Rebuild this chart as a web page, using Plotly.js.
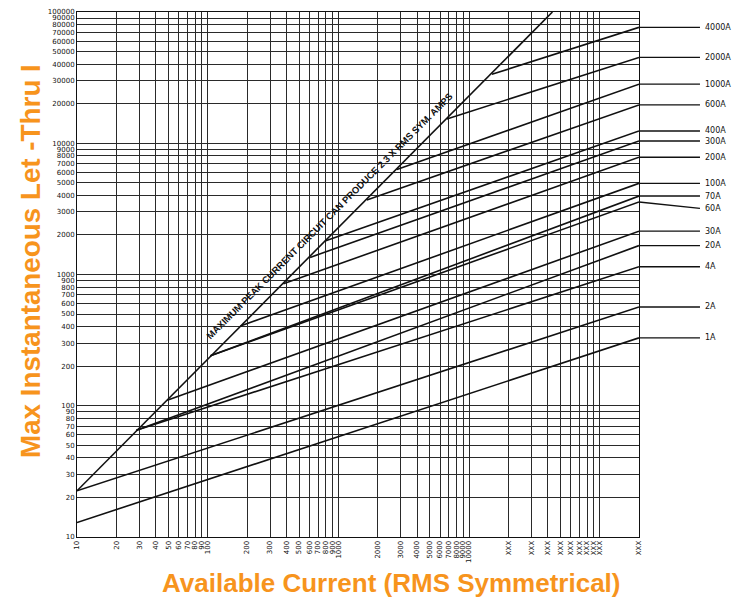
<!DOCTYPE html>
<html>
<head>
<meta charset="utf-8">
<script src="https://cdn.plot.ly/plotly-3.0.1.min.js"></script>
<style>html,body{margin:0;padding:0;background:#fff;}#chart{width:741px;height:600px;}</style>
</head>
<body>
<div id="chart"></div>
<script>
// ---- data ----
const fuseLabels    = ['1A','2A','4A','20A','30A','60A','70A','100A','200A','300A','400A','600A','1000A','2000A','4000A'];
const startCurrent  = [10, 10, 28.5, 28.5, 49, 105, 105, 178, 380, 608, 792, 1652, 2805, 6770, 14960];
const startLetThru  = [12.9, 22.5, 65, 65, 110, 240, 240, 405, 850, 1350, 1800, 3700, 6300, 15300, 33500];
const endCurrent    = [200000, 200000, 200000, 200000, 200000, 200000, 200000, 200000, 200000, 200000, 200000, 200000, 200000, 200000, 200000];
const endLetThru    = [329, 566, 1146, 1660, 2140, 3570, 3960, 4950, 7820, 10400, 12400, 19600, 28200, 45100, 76400];
const labelLetThru  = [329, 566, 1146, 1660, 2140, 3190, 3960, 4950, 7820, 10400, 12400, 19600, 28200, 45100, 76400];

const peakCurrent = [10, 43500];
const peakLetThru = [22.5, 100000];
const peakText = 'MAXIMUM PEAK CURRENT CIRCUIT CAN PRODUCE 2.3 X RMS SYM. AMPS';

const xTickVals = [10,20,30,40,50,60,70,80,90,100,200,300,400,500,600,700,800,900,1000,2000,3000,4000,5000,6000,7000,8000,9000,10000,20000,30000,40000,50000,60000,70000,80000,90000,100000,200000];
const xTickText = ['10','20','30','40','50','60','70','80','90','100','200','300','400','500','600','700','800','900','1000','2000','3000','4000','5000','6000','7000','8000','9000','10000','XXX','XXX','XXX','XXX','XXX','XXX','XXX','XXX','XXX','XXX'];
const yTickVals = [10,20,30,40,50,60,70,80,90,100,200,300,400,500,600,700,800,900,1000,2000,3000,4000,5000,6000,7000,8000,9000,10000,20000,30000,40000,50000,60000,70000,80000,90000,100000];
const yTickText = yTickVals.map(String);

const xTitle = 'Available Current (RMS Symmetrical)';
const yTitle = 'Max Instantaneous Let -Thru I';

// ---- build ----
const orange = '#F7941D';
const traces = [];
traces.push({x: peakCurrent, y: peakLetThru, mode: 'lines', line: {color: '#111', width: 1.6}, hoverinfo: 'skip', showlegend: false});
fuseLabels.forEach((lab, i) => {
  traces.push({
    x: [startCurrent[i], endCurrent[i]],
    y: [startLetThru[i], endLetThru[i]],
    mode: 'lines', name: lab,
    line: {color: '#111', width: 1.6},
    showlegend: false
  });
});

const shapes = [];
const annotations = [];
const leaderEnd = 1.1085;
fuseLabels.forEach((lab, i) => {
  shapes.push({type: 'line', xref: 'paper', yref: 'y', x0: 1, x1: leaderEnd,
    y0: endLetThru[i], y1: labelLetThru[i], line: {color: '#111', width: 1.4}});
  annotations.push({xref: 'paper', yref: 'y', x: leaderEnd + 0.006, y: Math.log10(labelLetThru[i]),
    text: lab, showarrow: false, xanchor: 'left', yanchor: 'middle',
    font: {family: 'DejaVu Sans', size: 8, color: '#111'}});
});

annotations.push({xref: 'x', yref: 'y', x: Math.log10(863), y: Math.log10(2791), text: '<b>' + peakText + '</b>',
  showarrow: false, textangle: -45, font: {family: 'Liberation Sans, Arial', size: 9.5, color: '#111'}});

annotations.push({xref: 'paper', yref: 'paper', x: 0.5596, y: -0.0876, text: '<b>' + xTitle + '</b>',
  showarrow: false, xanchor: 'center', yanchor: 'middle',
  font: {family: 'Liberation Sans, Arial, sans-serif', size: 26, color: orange}});
annotations.push({xref: 'paper', yref: 'paper', x: -0.0836, y: 0.5257, text: '<b>' + yTitle + '</b>',
  showarrow: false, textangle: -90, xanchor: 'center', yanchor: 'middle',
  font: {family: 'Liberation Sans, Arial, sans-serif', size: 27.8, color: orange}});

const layout = {
  width: 741, height: 600,
  margin: {l: 77, r: 102, t: 12, b: 63},
  paper_bgcolor: '#fff', plot_bgcolor: '#fff',
  showlegend: false,
  xaxis: {
    type: 'log', range: [1, Math.log10(200000)],
    tickmode: 'array', tickvals: xTickVals, ticktext: xTickText,
    tickangle: -90, tickfont: {family: 'DejaVu Sans', size: 7, color: '#111'},
    showgrid: true, gridcolor: '#2a2a2a', gridwidth: 1,
    showline: true, linecolor: '#111', linewidth: 1, mirror: true,
    ticks: '', zeroline: false
  },
  yaxis: {
    type: 'log', range: [1, 5],
    tickmode: 'array', tickvals: yTickVals, ticktext: yTickText,
    tickfont: {family: 'DejaVu Sans', size: 7, color: '#111'},
    showgrid: true, gridcolor: '#2a2a2a', gridwidth: 1,
    showline: true, linecolor: '#111', linewidth: 1, mirror: true,
    ticks: '', zeroline: false
  },
  shapes: shapes,
  annotations: annotations
};

Plotly.newPlot('chart', traces, layout, {displayModeBar: false, staticPlot: true});
</script>
</body>
</html>
